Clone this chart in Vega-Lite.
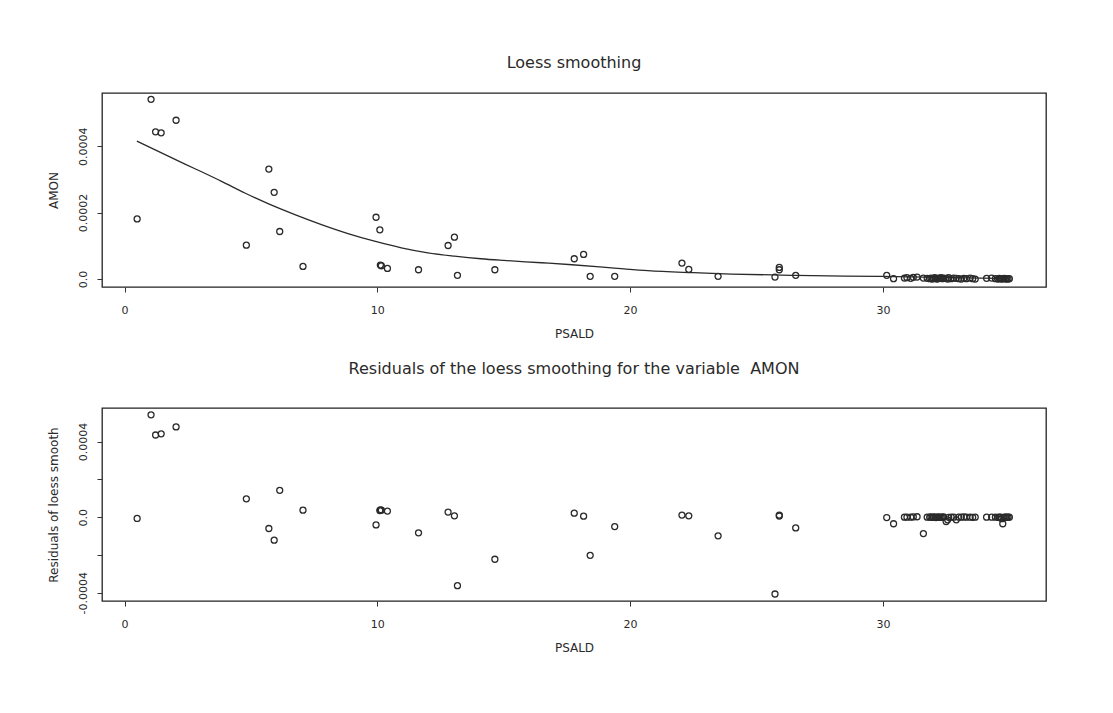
{
  "$schema": "https://vega.github.io/schema/vega-lite/v6.json",
  "background": "white",
  "padding": {"left": 46, "top": 54, "right": 20, "bottom": 10},
  "autosize": {"type": "pad"},
  "spacing": 20,
  "datasets": {
    "obs": [
      {"psald": 0.5, "amon": 0.000181, "resid": -0.000007},
      {"psald": 1.05, "amon": 0.000541, "resid": 0.000542},
      {"psald": 1.23, "amon": 0.000443, "resid": 0.000435},
      {"psald": 1.45, "amon": 0.00044, "resid": 0.000441},
      {"psald": 2.04, "amon": 0.000478, "resid": 0.000478},
      {"psald": 4.82, "amon": 0.000102, "resid": 0.000097},
      {"psald": 5.71, "amon": 0.000331, "resid": -0.00006},
      {"psald": 5.92, "amon": 0.000261, "resid": -0.000122},
      {"psald": 6.14, "amon": 0.000143, "resid": 0.000142},
      {"psald": 7.06, "amon": 0.000038, "resid": 0.000037},
      {"psald": 9.95, "amon": 0.000186, "resid": -0.000041},
      {"psald": 10.1, "amon": 0.000148, "resid": 0.000035},
      {"psald": 10.12, "amon": 0.000042, "resid": 0.000039},
      {"psald": 10.16, "amon": 0.00004, "resid": 0.000037},
      {"psald": 10.4, "amon": 0.000032, "resid": 0.000032},
      {"psald": 11.63, "amon": 0.000028, "resid": -0.000083},
      {"psald": 12.8, "amon": 0.000101, "resid": 0.000027},
      {"psald": 13.05, "amon": 0.000126, "resid": 0.000007},
      {"psald": 13.17, "amon": 0.000011, "resid": -0.000363},
      {"psald": 14.65, "amon": 0.000028, "resid": -0.000223},
      {"psald": 17.79, "amon": 0.000061, "resid": 0.000021},
      {"psald": 18.16, "amon": 0.000074, "resid": 0.000005},
      {"psald": 18.42, "amon": 0.000008, "resid": -0.000202},
      {"psald": 19.39, "amon": 0.000008, "resid": -0.00005},
      {"psald": 22.05, "amon": 0.000048, "resid": 0.000011},
      {"psald": 22.32, "amon": 0.000029, "resid": 0.000007},
      {"psald": 23.48, "amon": 0.000008, "resid": -0.000099},
      {"psald": 25.73, "amon": 0.000006, "resid": -0.000407},
      {"psald": 25.9, "amon": 0.000035, "resid": 0.000011},
      {"psald": 25.9, "amon": 0.000028, "resid": 0.000006},
      {"psald": 26.55, "amon": 0.000011, "resid": -0.000057},
      {"psald": 30.15, "amon": 0.000011, "resid": -0.000002},
      {"psald": 30.42, "amon": 0.000001, "resid": -0.000035},
      {"psald": 30.85, "amon": 0.000003, "resid": 0.0},
      {"psald": 30.95, "amon": 0.000004, "resid": 0.0},
      {"psald": 31.1, "amon": 0.000002, "resid": 0.0},
      {"psald": 31.2, "amon": 0.000005, "resid": 0.000001},
      {"psald": 31.35, "amon": 0.000006, "resid": 0.000002},
      {"psald": 31.6, "amon": 0.000003, "resid": -0.000087},
      {"psald": 31.75, "amon": 0.000002, "resid": 0.0},
      {"psald": 31.85, "amon": 0.000001, "resid": 0.0},
      {"psald": 31.9, "amon": 0.000003, "resid": 0.000001},
      {"psald": 31.95, "amon": 0.0, "resid": -0.000001},
      {"psald": 32.0, "amon": 0.000002, "resid": 0.0},
      {"psald": 32.05, "amon": 0.000004, "resid": 0.000001},
      {"psald": 32.1, "amon": 0.000001, "resid": -0.000002},
      {"psald": 32.15, "amon": 0.0, "resid": 0.0},
      {"psald": 32.2, "amon": 0.000003, "resid": 0.000001},
      {"psald": 32.25, "amon": 0.000002, "resid": -0.000001},
      {"psald": 32.3, "amon": 0.000004, "resid": 0.0},
      {"psald": 32.35, "amon": 0.000001, "resid": 0.0},
      {"psald": 32.4, "amon": 0.000003, "resid": 0.000001},
      {"psald": 32.5, "amon": 0.000002, "resid": -0.000023},
      {"psald": 32.56, "amon": 0.0, "resid": -0.000014},
      {"psald": 32.6, "amon": 0.000004, "resid": -0.000001},
      {"psald": 32.7, "amon": 0.000001, "resid": 0.0},
      {"psald": 32.8, "amon": 0.000003, "resid": 0.0},
      {"psald": 32.9, "amon": 0.000002, "resid": -0.000014},
      {"psald": 33.0, "amon": 0.000001, "resid": 0.0},
      {"psald": 33.1, "amon": 0.0, "resid": 0.0},
      {"psald": 33.2, "amon": 0.000002, "resid": 0.000001},
      {"psald": 33.3, "amon": 0.000001, "resid": 0.0},
      {"psald": 33.45, "amon": 0.000003, "resid": 0.0},
      {"psald": 33.55, "amon": 0.000001, "resid": -0.000001},
      {"psald": 33.65, "amon": 0.0, "resid": 0.0},
      {"psald": 34.1, "amon": 0.000002, "resid": 0.0},
      {"psald": 34.3, "amon": 0.000003, "resid": 0.0},
      {"psald": 34.45, "amon": 0.000001, "resid": 0.0},
      {"psald": 34.55, "amon": 0.0, "resid": -0.000001},
      {"psald": 34.6, "amon": 0.000002, "resid": 0.0},
      {"psald": 34.65, "amon": 0.000001, "resid": 0.0},
      {"psald": 34.7, "amon": 0.0, "resid": -0.000008},
      {"psald": 34.74, "amon": 0.000001, "resid": -0.000035},
      {"psald": 34.8, "amon": 0.000002, "resid": 0.0},
      {"psald": 34.85, "amon": 0.0, "resid": 0.0},
      {"psald": 34.9, "amon": 0.000001, "resid": 0.0},
      {"psald": 34.95, "amon": 0.0, "resid": 0.0},
      {"psald": 35.0, "amon": 0.000001, "resid": 0.0}
    ],
    "fit": [
      {"psald": 0.49, "fit": 0.000415},
      {"psald": 2.0, "fit": 0.00036},
      {"psald": 2.79, "fit": 0.000332},
      {"psald": 3.84, "fit": 0.000294},
      {"psald": 4.76, "fit": 0.000259},
      {"psald": 5.68, "fit": 0.000227},
      {"psald": 6.74, "fit": 0.000194},
      {"psald": 7.79, "fit": 0.000164},
      {"psald": 8.84, "fit": 0.000137},
      {"psald": 9.89, "fit": 0.000114},
      {"psald": 10.95, "fit": 0.000094},
      {"psald": 12.0, "fit": 0.000079},
      {"psald": 13.05, "fit": 0.000069},
      {"psald": 14.1, "fit": 0.000061},
      {"psald": 15.0, "fit": 0.000056},
      {"psald": 16.5, "fit": 0.000049},
      {"psald": 17.7, "fit": 0.000043},
      {"psald": 19.5, "fit": 0.000032},
      {"psald": 20.7, "fit": 0.000025},
      {"psald": 22.5, "fit": 0.000019},
      {"psald": 24.0, "fit": 0.000015},
      {"psald": 26.55, "fit": 0.000011},
      {"psald": 28.5, "fit": 0.000009},
      {"psald": 30.0, "fit": 0.000008},
      {"psald": 32.25, "fit": 0.000005},
      {"psald": 35.0, "fit": 0.000001}
    ]
  },
  "vconcat": [
    {
      "title": {"text": "Loess smoothing", "offset": 22},
      "width": 944,
      "height": 194,
      "layer": [
        {
          "data": {"name": "obs"},
          "mark": {"type": "point", "shape": "circle", "filled": false, "size": 36, "strokeWidth": 1.3, "color": "#2a2a2a", "opacity": 1},
          "encoding": {
            "x": {"field": "psald", "type": "quantitative", "title": "PSALD",
                  "scale": {"domain": [-0.89, 36.45], "nice": false, "zero": false},
                  "axis": {"values": [0, 10, 20, 30]}},
            "y": {"field": "amon", "type": "quantitative", "title": "AMON",
                  "scale": {"domain": [-0.000024, 0.00056], "nice": false, "zero": false},
                  "axis": {"values": [0, 0.0001, 0.0002, 0.0003, 0.0004, 0.0005],
                           "labelExpr": "datum.value == 0 ? '0.0' : (round(datum.value * 10000) % 2 == 0 ? format(datum.value, '.4f') : '')"}}
          }
        },
        {
          "data": {"name": "fit"},
          "mark": {"type": "line", "color": "#2a2a2a", "strokeWidth": 1.3, "interpolate": "monotone"},
          "encoding": {
            "x": {"field": "psald", "type": "quantitative"},
            "y": {"field": "fit", "type": "quantitative"}
          }
        }
      ]
    },
    {
      "title": {"text": "Residuals of the loess smoothing for the variable \u00a0AMON", "offset": 31},
      "width": 944,
      "height": 193,
      "layer": [
        {
          "data": {"name": "obs"},
          "mark": {"type": "point", "shape": "circle", "filled": false, "size": 36, "strokeWidth": 1.3, "color": "#2a2a2a", "opacity": 1},
          "encoding": {
            "x": {"field": "psald", "type": "quantitative", "title": "PSALD",
                  "scale": {"domain": [-0.89, 36.45], "nice": false, "zero": false},
                  "axis": {"values": [0, 10, 20, 30]}},
            "y": {"field": "resid", "type": "quantitative", "title": "Residuals of loess smooth",
                  "scale": {"domain": [-0.000444, 0.000578], "nice": false, "zero": false},
                  "axis": {"values": [-0.0004, -0.0002, 0, 0.0002, 0.0004],
                           "labelExpr": "datum.value == 0 ? '0.0' : (abs(round(datum.value * 10000)) == 4 ? (datum.value < 0 ? '-' : '') + format(abs(datum.value), '.4f') : '')"}}
          }
        },
        {
          "mark": {"type": "rule", "color": "#2a2a2a", "strokeWidth": 1.3},
          "encoding": {"y": {"datum": 0}}
        }
      ]
    }
  ],
  "config": {
    "font": "DejaVu Sans",
    "view": {"stroke": "#222", "strokeWidth": 1.3},
    "axis": {
      "grid": false, "domain": false, "tickColor": "#333", "tickSize": 5, "tickWidth": 1,
      "labelColor": "#2a2a2a", "labelFont": "DejaVu Sans", "labelFontSize": 11, "labelOverlap": false,
      "titleFont": "DejaVu Sans", "titleFontWeight": "normal", "titleFontSize": 12, "titleColor": "#2a2a2a"
    },
    "axisX": {"labelPadding": 12, "titlePadding": 13},
    "axisY": {"labelAngle": -90, "labelAlign": "center", "labelBaseline": "bottom", "labelPadding": 9, "titlePadding": 17},
    "title": {"font": "DejaVu Sans", "fontSize": 16, "fontWeight": "normal", "color": "#2a2a2a", "anchor": "middle"}
  }
}
